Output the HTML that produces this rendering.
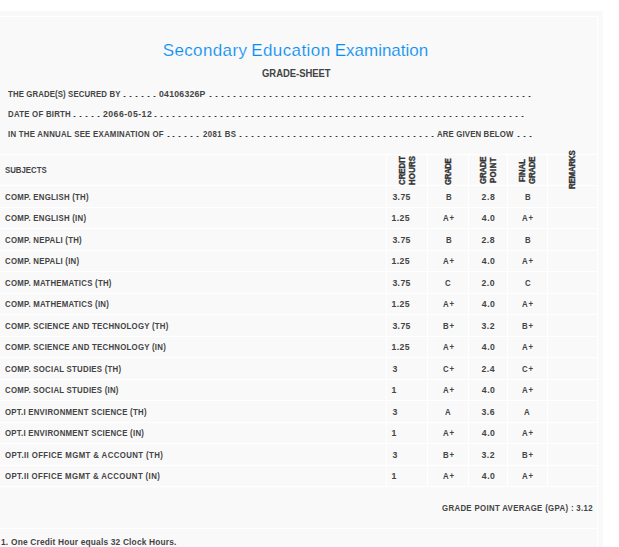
<!DOCTYPE html>
<html><head><meta charset="utf-8">
<style>
html,body{margin:0;padding:0;background:#fff;width:619px;height:547px;overflow:hidden;position:relative}
.hl{position:absolute;height:1px;background:#fff;left:0;width:597px}
.vl{position:absolute;width:1px;background:#fff}
.d{position:absolute;width:3px;height:1px;background:linear-gradient(90deg,#e2a466 0 1px,#333 1px 2px,#6aa8e6 2px 3px)}
</style></head><body>
<div style="position:absolute;left:0;top:11px;width:603px;height:540px;background:#f9f9f9"></div>
<div style="position:absolute;left:-10px;top:16px;width:606px;height:600px;border:1px solid #fff;border-bottom:none"></div>
<div class="hl" style="top:154px"></div>
<div class="hl" style="top:185px"></div>
<div class="hl" style="top:207px"></div>
<div class="hl" style="top:228px"></div>
<div class="hl" style="top:250px"></div>
<div class="hl" style="top:271px"></div>
<div class="hl" style="top:293px"></div>
<div class="hl" style="top:314px"></div>
<div class="hl" style="top:336px"></div>
<div class="hl" style="top:357px"></div>
<div class="hl" style="top:379px"></div>
<div class="hl" style="top:400px"></div>
<div class="hl" style="top:422px"></div>
<div class="hl" style="top:443px"></div>
<div class="hl" style="top:465px"></div>
<div class="hl" style="top:486px"></div>
<div class="hl" style="top:528px"></div>
<div class="vl" style="left:386px;top:154px;height:332px"></div>
<div class="vl" style="left:427px;top:154px;height:332px"></div>
<div class="vl" style="left:468px;top:154px;height:332px"></div>
<div class="vl" style="left:507px;top:154px;height:332px"></div>
<div class="vl" style="left:547px;top:154px;height:332px"></div>
<div class="vl" style="left:597px;top:154px;height:332px"></div>
<i class="d" style="left:123px;top:96px"></i>
<i class="d" style="left:129px;top:96px"></i>
<i class="d" style="left:135px;top:96px"></i>
<i class="d" style="left:141px;top:96px"></i>
<i class="d" style="left:147px;top:96px"></i>
<i class="d" style="left:153px;top:96px"></i>
<i class="d" style="left:209px;top:96px"></i>
<i class="d" style="left:215px;top:96px"></i>
<i class="d" style="left:221px;top:96px"></i>
<i class="d" style="left:227px;top:96px"></i>
<i class="d" style="left:233px;top:96px"></i>
<i class="d" style="left:239px;top:96px"></i>
<i class="d" style="left:245px;top:96px"></i>
<i class="d" style="left:251px;top:96px"></i>
<i class="d" style="left:257px;top:96px"></i>
<i class="d" style="left:263px;top:96px"></i>
<i class="d" style="left:269px;top:96px"></i>
<i class="d" style="left:275px;top:96px"></i>
<i class="d" style="left:281px;top:96px"></i>
<i class="d" style="left:287px;top:96px"></i>
<i class="d" style="left:293px;top:96px"></i>
<i class="d" style="left:299px;top:96px"></i>
<i class="d" style="left:305px;top:96px"></i>
<i class="d" style="left:311px;top:96px"></i>
<i class="d" style="left:317px;top:96px"></i>
<i class="d" style="left:323px;top:96px"></i>
<i class="d" style="left:329px;top:96px"></i>
<i class="d" style="left:335px;top:96px"></i>
<i class="d" style="left:341px;top:96px"></i>
<i class="d" style="left:347px;top:96px"></i>
<i class="d" style="left:353px;top:96px"></i>
<i class="d" style="left:359px;top:96px"></i>
<i class="d" style="left:365px;top:96px"></i>
<i class="d" style="left:371px;top:96px"></i>
<i class="d" style="left:377px;top:96px"></i>
<i class="d" style="left:383px;top:96px"></i>
<i class="d" style="left:390px;top:96px"></i>
<i class="d" style="left:396px;top:96px"></i>
<i class="d" style="left:402px;top:96px"></i>
<i class="d" style="left:408px;top:96px"></i>
<i class="d" style="left:414px;top:96px"></i>
<i class="d" style="left:420px;top:96px"></i>
<i class="d" style="left:426px;top:96px"></i>
<i class="d" style="left:432px;top:96px"></i>
<i class="d" style="left:438px;top:96px"></i>
<i class="d" style="left:444px;top:96px"></i>
<i class="d" style="left:450px;top:96px"></i>
<i class="d" style="left:456px;top:96px"></i>
<i class="d" style="left:462px;top:96px"></i>
<i class="d" style="left:468px;top:96px"></i>
<i class="d" style="left:474px;top:96px"></i>
<i class="d" style="left:480px;top:96px"></i>
<i class="d" style="left:486px;top:96px"></i>
<i class="d" style="left:492px;top:96px"></i>
<i class="d" style="left:498px;top:96px"></i>
<i class="d" style="left:504px;top:96px"></i>
<i class="d" style="left:510px;top:96px"></i>
<i class="d" style="left:516px;top:96px"></i>
<i class="d" style="left:522px;top:96px"></i>
<i class="d" style="left:528px;top:96px"></i>
<i class="d" style="left:73px;top:116px"></i>
<i class="d" style="left:79px;top:116px"></i>
<i class="d" style="left:85px;top:116px"></i>
<i class="d" style="left:91px;top:116px"></i>
<i class="d" style="left:97px;top:116px"></i>
<i class="d" style="left:154px;top:116px"></i>
<i class="d" style="left:160px;top:116px"></i>
<i class="d" style="left:166px;top:116px"></i>
<i class="d" style="left:172px;top:116px"></i>
<i class="d" style="left:178px;top:116px"></i>
<i class="d" style="left:184px;top:116px"></i>
<i class="d" style="left:190px;top:116px"></i>
<i class="d" style="left:196px;top:116px"></i>
<i class="d" style="left:202px;top:116px"></i>
<i class="d" style="left:208px;top:116px"></i>
<i class="d" style="left:214px;top:116px"></i>
<i class="d" style="left:220px;top:116px"></i>
<i class="d" style="left:226px;top:116px"></i>
<i class="d" style="left:232px;top:116px"></i>
<i class="d" style="left:238px;top:116px"></i>
<i class="d" style="left:245px;top:116px"></i>
<i class="d" style="left:251px;top:116px"></i>
<i class="d" style="left:257px;top:116px"></i>
<i class="d" style="left:263px;top:116px"></i>
<i class="d" style="left:269px;top:116px"></i>
<i class="d" style="left:275px;top:116px"></i>
<i class="d" style="left:281px;top:116px"></i>
<i class="d" style="left:287px;top:116px"></i>
<i class="d" style="left:293px;top:116px"></i>
<i class="d" style="left:299px;top:116px"></i>
<i class="d" style="left:305px;top:116px"></i>
<i class="d" style="left:311px;top:116px"></i>
<i class="d" style="left:317px;top:116px"></i>
<i class="d" style="left:323px;top:116px"></i>
<i class="d" style="left:329px;top:116px"></i>
<i class="d" style="left:335px;top:116px"></i>
<i class="d" style="left:341px;top:116px"></i>
<i class="d" style="left:347px;top:116px"></i>
<i class="d" style="left:353px;top:116px"></i>
<i class="d" style="left:359px;top:116px"></i>
<i class="d" style="left:365px;top:116px"></i>
<i class="d" style="left:371px;top:116px"></i>
<i class="d" style="left:377px;top:116px"></i>
<i class="d" style="left:383px;top:116px"></i>
<i class="d" style="left:389px;top:116px"></i>
<i class="d" style="left:395px;top:116px"></i>
<i class="d" style="left:401px;top:116px"></i>
<i class="d" style="left:407px;top:116px"></i>
<i class="d" style="left:413px;top:116px"></i>
<i class="d" style="left:419px;top:116px"></i>
<i class="d" style="left:425px;top:116px"></i>
<i class="d" style="left:431px;top:116px"></i>
<i class="d" style="left:437px;top:116px"></i>
<i class="d" style="left:443px;top:116px"></i>
<i class="d" style="left:449px;top:116px"></i>
<i class="d" style="left:455px;top:116px"></i>
<i class="d" style="left:461px;top:116px"></i>
<i class="d" style="left:467px;top:116px"></i>
<i class="d" style="left:473px;top:116px"></i>
<i class="d" style="left:479px;top:116px"></i>
<i class="d" style="left:485px;top:116px"></i>
<i class="d" style="left:491px;top:116px"></i>
<i class="d" style="left:497px;top:116px"></i>
<i class="d" style="left:503px;top:116px"></i>
<i class="d" style="left:509px;top:116px"></i>
<i class="d" style="left:515px;top:116px"></i>
<i class="d" style="left:521px;top:116px"></i>
<i class="d" style="left:167px;top:136px"></i>
<i class="d" style="left:172px;top:136px"></i>
<i class="d" style="left:178px;top:136px"></i>
<i class="d" style="left:184px;top:136px"></i>
<i class="d" style="left:190px;top:136px"></i>
<i class="d" style="left:196px;top:136px"></i>
<i class="d" style="left:239px;top:136px"></i>
<i class="d" style="left:245px;top:136px"></i>
<i class="d" style="left:251px;top:136px"></i>
<i class="d" style="left:257px;top:136px"></i>
<i class="d" style="left:263px;top:136px"></i>
<i class="d" style="left:269px;top:136px"></i>
<i class="d" style="left:275px;top:136px"></i>
<i class="d" style="left:281px;top:136px"></i>
<i class="d" style="left:287px;top:136px"></i>
<i class="d" style="left:293px;top:136px"></i>
<i class="d" style="left:299px;top:136px"></i>
<i class="d" style="left:305px;top:136px"></i>
<i class="d" style="left:311px;top:136px"></i>
<i class="d" style="left:317px;top:136px"></i>
<i class="d" style="left:323px;top:136px"></i>
<i class="d" style="left:329px;top:136px"></i>
<i class="d" style="left:335px;top:136px"></i>
<i class="d" style="left:341px;top:136px"></i>
<i class="d" style="left:347px;top:136px"></i>
<i class="d" style="left:353px;top:136px"></i>
<i class="d" style="left:359px;top:136px"></i>
<i class="d" style="left:365px;top:136px"></i>
<i class="d" style="left:371px;top:136px"></i>
<i class="d" style="left:377px;top:136px"></i>
<i class="d" style="left:383px;top:136px"></i>
<i class="d" style="left:389px;top:136px"></i>
<i class="d" style="left:395px;top:136px"></i>
<i class="d" style="left:401px;top:136px"></i>
<i class="d" style="left:407px;top:136px"></i>
<i class="d" style="left:413px;top:136px"></i>
<i class="d" style="left:419px;top:136px"></i>
<i class="d" style="left:425px;top:136px"></i>
<i class="d" style="left:431px;top:136px"></i>
<i class="d" style="left:517px;top:136px"></i>
<i class="d" style="left:523px;top:136px"></i>
<i class="d" style="left:529px;top:136px"></i>
<div id="title" style="position:absolute;white-space:pre;font-family:'Liberation Sans',sans-serif;font-size:17px;font-weight:normal;color:#0a8ef2;line-height:34px;left:162.70px;top:34.35px;letter-spacing:0.380px;-webkit-text-stroke:0.15px #f9f9f9;">Secondary</div>
<div id="title2" style="position:absolute;white-space:pre;font-family:'Liberation Sans',sans-serif;font-size:17px;font-weight:normal;color:#0a8ef2;line-height:34px;left:251.18px;top:34.35px;letter-spacing:0.420px;-webkit-text-stroke:0.15px #f9f9f9;">Education</div>
<div id="title3" style="position:absolute;white-space:pre;font-family:'Liberation Sans',sans-serif;font-size:17px;font-weight:normal;color:#0a8ef2;line-height:34px;left:334.70px;top:34.35px;letter-spacing:0.000px;-webkit-text-stroke:0.15px #f9f9f9;">Examination</div>
<div id="gs" style="position:absolute;white-space:pre;font-family:'Liberation Sans',sans-serif;font-size:11px;font-weight:bold;color:#444;line-height:22px;left:261.90px;top:62.05px;letter-spacing:-0.027px;transform:scaleX(0.86);transform-origin:0 0;">GRADE-SHEET</div>
<div id="l1a" style="position:absolute;white-space:pre;font-family:'Liberation Sans',sans-serif;font-size:8.7px;font-weight:bold;color:#444;line-height:17.4px;left:7.80px;top:86.39px;letter-spacing:0.125px;transform:scaleX(0.9);transform-origin:0 0;">THE GRADE(S) SECURED BY</div>
<div id="l1c" style="position:absolute;white-space:pre;font-family:'Liberation Sans',sans-serif;font-size:8.7px;font-weight:bold;color:#444;line-height:17.4px;left:159.02px;top:86.39px;letter-spacing:0.244px;transform:scaleX(1.0);transform-origin:0 0;">04106326P</div>
<div id="l2a" style="position:absolute;white-space:pre;font-family:'Liberation Sans',sans-serif;font-size:8.7px;font-weight:bold;color:#444;line-height:17.4px;left:8.10px;top:106.39px;letter-spacing:0.274px;transform:scaleX(0.9);transform-origin:0 0;">DATE OF BIRTH</div>
<div id="l2c" style="position:absolute;white-space:pre;font-family:'Liberation Sans',sans-serif;font-size:8.7px;font-weight:bold;color:#444;line-height:17.4px;left:102.98px;top:106.39px;letter-spacing:0.484px;transform:scaleX(1.0);transform-origin:0 0;">2066-05-12</div>
<div id="l3a" style="position:absolute;white-space:pre;font-family:'Liberation Sans',sans-serif;font-size:8.7px;font-weight:bold;color:#444;line-height:17.4px;left:7.50px;top:126.39px;letter-spacing:0.287px;transform:scaleX(0.9);transform-origin:0 0;">IN THE ANNUAL SEE EXAMINATION OF</div>
<div id="l3c" style="position:absolute;white-space:pre;font-family:'Liberation Sans',sans-serif;font-size:8.7px;font-weight:bold;color:#444;line-height:17.4px;left:203.40px;top:126.39px;letter-spacing:0.474px;transform:scaleX(0.9);transform-origin:0 0;">2081 BS</div>
<div id="l3e" style="position:absolute;white-space:pre;font-family:'Liberation Sans',sans-serif;font-size:8.7px;font-weight:bold;color:#444;line-height:17.4px;left:437.36px;top:126.39px;letter-spacing:0.159px;transform:scaleX(0.9);transform-origin:0 0;">ARE GIVEN BELOW</div>
<div id="subj" style="position:absolute;white-space:pre;font-family:'Liberation Sans',sans-serif;font-size:8.7px;font-weight:bold;color:#444;line-height:17.4px;left:4.70px;top:162.38px;letter-spacing:0.000px;transform:scaleX(0.9);transform-origin:0 0;">SUBJECTS</div>
<div id="gpa" style="position:absolute;white-space:pre;font-family:'Liberation Sans',sans-serif;font-size:8.7px;font-weight:bold;color:#444;line-height:17.4px;left:441.50px;top:500.38px;letter-spacing:0.373px;transform:scaleX(0.9);transform-origin:0 0;">GRADE POINT AVERAGE (GPA) : 3.12</div>
<div id="fn1" style="position:absolute;white-space:pre;font-family:'Liberation Sans',sans-serif;font-size:9.3px;font-weight:bold;color:#444;line-height:18.6px;left:0.60px;top:532.51px;letter-spacing:0.000px;transform:scaleX(0.9);transform-origin:0 0;">1.</div>
<div id="fn2" style="position:absolute;white-space:pre;font-family:'Liberation Sans',sans-serif;font-size:9.3px;font-weight:bold;color:#444;line-height:18.6px;left:11.00px;top:532.51px;letter-spacing:0.192px;transform:scaleX(0.9);transform-origin:0 0;">One Credit Hour equals 32 Clock Hours.</div>
<div id="hCR" style="position:absolute;white-space:pre;font-family:'Liberation Sans',sans-serif;font-size:8.7px;font-weight:bold;color:#333;line-height:10px;left:396.50px;top:184.70px;letter-spacing:-0.000px;transform:rotate(-90deg) scaleX(0.9);transform-origin:0 0;-webkit-text-stroke:0.35px #333;">CREDIT</div>
<div id="hHO" style="position:absolute;white-space:pre;font-family:'Liberation Sans',sans-serif;font-size:8.7px;font-weight:bold;color:#333;line-height:10px;left:406.50px;top:184.70px;letter-spacing:0.222px;transform:rotate(-90deg) scaleX(0.9);transform-origin:0 0;-webkit-text-stroke:0.35px #333;">HOURS</div>
<div id="hG2" style="position:absolute;white-space:pre;font-family:'Liberation Sans',sans-serif;font-size:8.7px;font-weight:bold;color:#333;line-height:10px;left:443.00px;top:184.70px;letter-spacing:-0.444px;transform:rotate(-90deg) scaleX(0.9);transform-origin:0 0;-webkit-text-stroke:0.35px #333;">GRADE</div>
<div id="hG3" style="position:absolute;white-space:pre;font-family:'Liberation Sans',sans-serif;font-size:8.7px;font-weight:bold;color:#333;line-height:10px;left:477.80px;top:184.00px;letter-spacing:-0.222px;transform:rotate(-90deg) scaleX(0.9);transform-origin:0 0;-webkit-text-stroke:0.35px #333;">GRADE</div>
<div id="hPO" style="position:absolute;white-space:pre;font-family:'Liberation Sans',sans-serif;font-size:8.7px;font-weight:bold;color:#333;line-height:10px;left:488.20px;top:182.80px;letter-spacing:0.444px;transform:rotate(-90deg) scaleX(0.9);transform-origin:0 0;-webkit-text-stroke:0.35px #333;">POINT</div>
<div id="hFI" style="position:absolute;white-space:pre;font-family:'Liberation Sans',sans-serif;font-size:8.7px;font-weight:bold;color:#333;line-height:10px;left:517.20px;top:181.80px;letter-spacing:0.000px;transform:rotate(-90deg) scaleX(0.9);transform-origin:0 0;-webkit-text-stroke:0.35px #333;">FINAL</div>
<div id="hG4" style="position:absolute;white-space:pre;font-family:'Liberation Sans',sans-serif;font-size:8.7px;font-weight:bold;color:#333;line-height:10px;left:526.90px;top:184.20px;letter-spacing:-0.222px;transform:rotate(-90deg) scaleX(0.9);transform-origin:0 0;-webkit-text-stroke:0.35px #333;">GRADE</div>
<div id="hRE" style="position:absolute;white-space:pre;font-family:'Liberation Sans',sans-serif;font-size:8.7px;font-weight:bold;color:#333;line-height:10px;left:566.60px;top:189.00px;letter-spacing:-0.148px;transform:rotate(-90deg) scaleX(0.9);transform-origin:0 0;-webkit-text-stroke:0.35px #333;">REMARKS</div>
<div id="s0" style="position:absolute;white-space:pre;font-family:'Liberation Sans',sans-serif;font-size:8.7px;font-weight:bold;color:#444;line-height:17.4px;left:5.10px;top:189.38px;letter-spacing:0.278px;transform:scaleX(0.9);transform-origin:0 0;">COMP. ENGLISH (TH)</div>
<div id="c0" style="position:absolute;white-space:pre;font-family:'Liberation Sans',sans-serif;font-size:8.7px;font-weight:bold;color:#444;line-height:17.4px;left:392.40px;top:189.38px;letter-spacing:0.385px;transform:scaleX(1.0);transform-origin:0 0;">3.75</div>
<div id="g0" style="position:absolute;white-space:pre;font-family:'Liberation Sans',sans-serif;font-size:8.7px;font-weight:bold;color:#444;line-height:17.4px;left:445.80px;top:189.38px;letter-spacing:0.889px;transform:scaleX(0.9);transform-origin:0 0;">B</div>
<div id="p0" style="position:absolute;white-space:pre;font-family:'Liberation Sans',sans-serif;font-size:8.7px;font-weight:bold;color:#444;line-height:17.4px;left:481.60px;top:189.38px;letter-spacing:0.533px;transform:scaleX(1.0);transform-origin:0 0;">2.8</div>
<div id="f0" style="position:absolute;white-space:pre;font-family:'Liberation Sans',sans-serif;font-size:8.7px;font-weight:bold;color:#444;line-height:17.4px;left:524.90px;top:189.38px;letter-spacing:0.889px;transform:scaleX(0.9);transform-origin:0 0;">B</div>
<div id="s1" style="position:absolute;white-space:pre;font-family:'Liberation Sans',sans-serif;font-size:8.7px;font-weight:bold;color:#444;line-height:17.4px;left:5.10px;top:210.38px;letter-spacing:0.278px;transform:scaleX(0.9);transform-origin:0 0;">COMP. ENGLISH (IN)</div>
<div id="c1" style="position:absolute;white-space:pre;font-family:'Liberation Sans',sans-serif;font-size:8.7px;font-weight:bold;color:#444;line-height:17.4px;left:391.60px;top:210.38px;letter-spacing:0.385px;transform:scaleX(1.0);transform-origin:0 0;">1.25</div>
<div id="g1" style="position:absolute;white-space:pre;font-family:'Liberation Sans',sans-serif;font-size:8.7px;font-weight:bold;color:#444;line-height:17.4px;left:442.50px;top:210.38px;letter-spacing:0.889px;transform:scaleX(0.9);transform-origin:0 0;">A+</div>
<div id="p1" style="position:absolute;white-space:pre;font-family:'Liberation Sans',sans-serif;font-size:8.7px;font-weight:bold;color:#444;line-height:17.4px;left:481.80px;top:210.38px;letter-spacing:0.533px;transform:scaleX(1.0);transform-origin:0 0;">4.0</div>
<div id="f1" style="position:absolute;white-space:pre;font-family:'Liberation Sans',sans-serif;font-size:8.7px;font-weight:bold;color:#444;line-height:17.4px;left:522.10px;top:210.38px;letter-spacing:0.889px;transform:scaleX(0.9);transform-origin:0 0;">A+</div>
<div id="s2" style="position:absolute;white-space:pre;font-family:'Liberation Sans',sans-serif;font-size:8.7px;font-weight:bold;color:#444;line-height:17.4px;left:5.10px;top:232.38px;letter-spacing:0.278px;transform:scaleX(0.9);transform-origin:0 0;">COMP. NEPALI (TH)</div>
<div id="c2" style="position:absolute;white-space:pre;font-family:'Liberation Sans',sans-serif;font-size:8.7px;font-weight:bold;color:#444;line-height:17.4px;left:392.40px;top:232.38px;letter-spacing:0.385px;transform:scaleX(1.0);transform-origin:0 0;">3.75</div>
<div id="g2" style="position:absolute;white-space:pre;font-family:'Liberation Sans',sans-serif;font-size:8.7px;font-weight:bold;color:#444;line-height:17.4px;left:445.80px;top:232.38px;letter-spacing:0.889px;transform:scaleX(0.9);transform-origin:0 0;">B</div>
<div id="p2" style="position:absolute;white-space:pre;font-family:'Liberation Sans',sans-serif;font-size:8.7px;font-weight:bold;color:#444;line-height:17.4px;left:481.40px;top:232.38px;letter-spacing:0.533px;transform:scaleX(1.0);transform-origin:0 0;">2.8</div>
<div id="f2" style="position:absolute;white-space:pre;font-family:'Liberation Sans',sans-serif;font-size:8.7px;font-weight:bold;color:#444;line-height:17.4px;left:524.50px;top:232.38px;letter-spacing:0.889px;transform:scaleX(0.9);transform-origin:0 0;">B</div>
<div id="s3" style="position:absolute;white-space:pre;font-family:'Liberation Sans',sans-serif;font-size:8.7px;font-weight:bold;color:#444;line-height:17.4px;left:5.10px;top:253.38px;letter-spacing:0.278px;transform:scaleX(0.9);transform-origin:0 0;">COMP. NEPALI (IN)</div>
<div id="c3" style="position:absolute;white-space:pre;font-family:'Liberation Sans',sans-serif;font-size:8.7px;font-weight:bold;color:#444;line-height:17.4px;left:391.60px;top:253.38px;letter-spacing:0.385px;transform:scaleX(1.0);transform-origin:0 0;">1.25</div>
<div id="g3" style="position:absolute;white-space:pre;font-family:'Liberation Sans',sans-serif;font-size:8.7px;font-weight:bold;color:#444;line-height:17.4px;left:442.60px;top:253.38px;letter-spacing:0.889px;transform:scaleX(0.9);transform-origin:0 0;">A+</div>
<div id="p3" style="position:absolute;white-space:pre;font-family:'Liberation Sans',sans-serif;font-size:8.7px;font-weight:bold;color:#444;line-height:17.4px;left:481.80px;top:253.38px;letter-spacing:0.533px;transform:scaleX(1.0);transform-origin:0 0;">4.0</div>
<div id="f3" style="position:absolute;white-space:pre;font-family:'Liberation Sans',sans-serif;font-size:8.7px;font-weight:bold;color:#444;line-height:17.4px;left:522.10px;top:253.38px;letter-spacing:0.889px;transform:scaleX(0.9);transform-origin:0 0;">A+</div>
<div id="s4" style="position:absolute;white-space:pre;font-family:'Liberation Sans',sans-serif;font-size:8.7px;font-weight:bold;color:#444;line-height:17.4px;left:5.10px;top:275.38px;letter-spacing:0.278px;transform:scaleX(0.9);transform-origin:0 0;">COMP. MATHEMATICS (TH)</div>
<div id="c4" style="position:absolute;white-space:pre;font-family:'Liberation Sans',sans-serif;font-size:8.7px;font-weight:bold;color:#444;line-height:17.4px;left:392.40px;top:275.38px;letter-spacing:0.385px;transform:scaleX(1.0);transform-origin:0 0;">3.75</div>
<div id="g4" style="position:absolute;white-space:pre;font-family:'Liberation Sans',sans-serif;font-size:8.7px;font-weight:bold;color:#444;line-height:17.4px;left:445.40px;top:275.38px;letter-spacing:0.889px;transform:scaleX(0.9);transform-origin:0 0;">C</div>
<div id="p4" style="position:absolute;white-space:pre;font-family:'Liberation Sans',sans-serif;font-size:8.7px;font-weight:bold;color:#444;line-height:17.4px;left:481.40px;top:275.38px;letter-spacing:0.533px;transform:scaleX(1.0);transform-origin:0 0;">2.0</div>
<div id="f4" style="position:absolute;white-space:pre;font-family:'Liberation Sans',sans-serif;font-size:8.7px;font-weight:bold;color:#444;line-height:17.4px;left:524.90px;top:275.38px;letter-spacing:0.889px;transform:scaleX(0.9);transform-origin:0 0;">C</div>
<div id="s5" style="position:absolute;white-space:pre;font-family:'Liberation Sans',sans-serif;font-size:8.7px;font-weight:bold;color:#444;line-height:17.4px;left:5.10px;top:296.38px;letter-spacing:0.278px;transform:scaleX(0.9);transform-origin:0 0;">COMP. MATHEMATICS (IN)</div>
<div id="c5" style="position:absolute;white-space:pre;font-family:'Liberation Sans',sans-serif;font-size:8.7px;font-weight:bold;color:#444;line-height:17.4px;left:391.60px;top:296.38px;letter-spacing:0.385px;transform:scaleX(1.0);transform-origin:0 0;">1.25</div>
<div id="g5" style="position:absolute;white-space:pre;font-family:'Liberation Sans',sans-serif;font-size:8.7px;font-weight:bold;color:#444;line-height:17.4px;left:442.60px;top:296.38px;letter-spacing:0.889px;transform:scaleX(0.9);transform-origin:0 0;">A+</div>
<div id="p5" style="position:absolute;white-space:pre;font-family:'Liberation Sans',sans-serif;font-size:8.7px;font-weight:bold;color:#444;line-height:17.4px;left:481.80px;top:296.38px;letter-spacing:0.533px;transform:scaleX(1.0);transform-origin:0 0;">4.0</div>
<div id="f5" style="position:absolute;white-space:pre;font-family:'Liberation Sans',sans-serif;font-size:8.7px;font-weight:bold;color:#444;line-height:17.4px;left:522.10px;top:296.38px;letter-spacing:0.889px;transform:scaleX(0.9);transform-origin:0 0;">A+</div>
<div id="s6" style="position:absolute;white-space:pre;font-family:'Liberation Sans',sans-serif;font-size:8.7px;font-weight:bold;color:#444;line-height:17.4px;left:5.10px;top:318.38px;letter-spacing:0.278px;transform:scaleX(0.9);transform-origin:0 0;">COMP. SCIENCE AND TECHNOLOGY (TH)</div>
<div id="c6" style="position:absolute;white-space:pre;font-family:'Liberation Sans',sans-serif;font-size:8.7px;font-weight:bold;color:#444;line-height:17.4px;left:392.40px;top:318.38px;letter-spacing:0.385px;transform:scaleX(1.0);transform-origin:0 0;">3.75</div>
<div id="g6" style="position:absolute;white-space:pre;font-family:'Liberation Sans',sans-serif;font-size:8.7px;font-weight:bold;color:#444;line-height:17.4px;left:442.60px;top:318.38px;letter-spacing:0.889px;transform:scaleX(0.9);transform-origin:0 0;">B+</div>
<div id="p6" style="position:absolute;white-space:pre;font-family:'Liberation Sans',sans-serif;font-size:8.7px;font-weight:bold;color:#444;line-height:17.4px;left:481.40px;top:318.38px;letter-spacing:0.533px;transform:scaleX(1.0);transform-origin:0 0;">3.2</div>
<div id="f6" style="position:absolute;white-space:pre;font-family:'Liberation Sans',sans-serif;font-size:8.7px;font-weight:bold;color:#444;line-height:17.4px;left:522.10px;top:318.38px;letter-spacing:0.889px;transform:scaleX(0.9);transform-origin:0 0;">B+</div>
<div id="s7" style="position:absolute;white-space:pre;font-family:'Liberation Sans',sans-serif;font-size:8.7px;font-weight:bold;color:#444;line-height:17.4px;left:5.10px;top:339.38px;letter-spacing:0.278px;transform:scaleX(0.9);transform-origin:0 0;">COMP. SCIENCE AND TECHNOLOGY (IN)</div>
<div id="c7" style="position:absolute;white-space:pre;font-family:'Liberation Sans',sans-serif;font-size:8.7px;font-weight:bold;color:#444;line-height:17.4px;left:391.60px;top:339.38px;letter-spacing:0.385px;transform:scaleX(1.0);transform-origin:0 0;">1.25</div>
<div id="g7" style="position:absolute;white-space:pre;font-family:'Liberation Sans',sans-serif;font-size:8.7px;font-weight:bold;color:#444;line-height:17.4px;left:442.60px;top:339.38px;letter-spacing:0.889px;transform:scaleX(0.9);transform-origin:0 0;">A+</div>
<div id="p7" style="position:absolute;white-space:pre;font-family:'Liberation Sans',sans-serif;font-size:8.7px;font-weight:bold;color:#444;line-height:17.4px;left:481.80px;top:339.38px;letter-spacing:0.533px;transform:scaleX(1.0);transform-origin:0 0;">4.0</div>
<div id="f7" style="position:absolute;white-space:pre;font-family:'Liberation Sans',sans-serif;font-size:8.7px;font-weight:bold;color:#444;line-height:17.4px;left:522.10px;top:339.38px;letter-spacing:0.889px;transform:scaleX(0.9);transform-origin:0 0;">A+</div>
<div id="s8" style="position:absolute;white-space:pre;font-family:'Liberation Sans',sans-serif;font-size:8.7px;font-weight:bold;color:#444;line-height:17.4px;left:5.10px;top:361.38px;letter-spacing:0.278px;transform:scaleX(0.9);transform-origin:0 0;">COMP. SOCIAL STUDIES (TH)</div>
<div id="c8" style="position:absolute;white-space:pre;font-family:'Liberation Sans',sans-serif;font-size:8.7px;font-weight:bold;color:#444;line-height:17.4px;left:392.40px;top:361.38px;letter-spacing:0.385px;transform:scaleX(1.0);transform-origin:0 0;">3</div>
<div id="g8" style="position:absolute;white-space:pre;font-family:'Liberation Sans',sans-serif;font-size:8.7px;font-weight:bold;color:#444;line-height:17.4px;left:442.60px;top:361.38px;letter-spacing:0.889px;transform:scaleX(0.9);transform-origin:0 0;">C+</div>
<div id="p8" style="position:absolute;white-space:pre;font-family:'Liberation Sans',sans-serif;font-size:8.7px;font-weight:bold;color:#444;line-height:17.4px;left:481.40px;top:361.38px;letter-spacing:0.533px;transform:scaleX(1.0);transform-origin:0 0;">2.4</div>
<div id="f8" style="position:absolute;white-space:pre;font-family:'Liberation Sans',sans-serif;font-size:8.7px;font-weight:bold;color:#444;line-height:17.4px;left:522.10px;top:361.38px;letter-spacing:0.889px;transform:scaleX(0.9);transform-origin:0 0;">C+</div>
<div id="s9" style="position:absolute;white-space:pre;font-family:'Liberation Sans',sans-serif;font-size:8.7px;font-weight:bold;color:#444;line-height:17.4px;left:5.10px;top:382.38px;letter-spacing:0.278px;transform:scaleX(0.9);transform-origin:0 0;">COMP. SOCIAL STUDIES (IN)</div>
<div id="c9" style="position:absolute;white-space:pre;font-family:'Liberation Sans',sans-serif;font-size:8.7px;font-weight:bold;color:#444;line-height:17.4px;left:391.60px;top:382.38px;letter-spacing:0.385px;transform:scaleX(1.0);transform-origin:0 0;">1</div>
<div id="g9" style="position:absolute;white-space:pre;font-family:'Liberation Sans',sans-serif;font-size:8.7px;font-weight:bold;color:#444;line-height:17.4px;left:442.60px;top:382.38px;letter-spacing:0.889px;transform:scaleX(0.9);transform-origin:0 0;">A+</div>
<div id="p9" style="position:absolute;white-space:pre;font-family:'Liberation Sans',sans-serif;font-size:8.7px;font-weight:bold;color:#444;line-height:17.4px;left:481.80px;top:382.38px;letter-spacing:0.533px;transform:scaleX(1.0);transform-origin:0 0;">4.0</div>
<div id="f9" style="position:absolute;white-space:pre;font-family:'Liberation Sans',sans-serif;font-size:8.7px;font-weight:bold;color:#444;line-height:17.4px;left:522.10px;top:382.38px;letter-spacing:0.889px;transform:scaleX(0.9);transform-origin:0 0;">A+</div>
<div id="s10" style="position:absolute;white-space:pre;font-family:'Liberation Sans',sans-serif;font-size:8.7px;font-weight:bold;color:#444;line-height:17.4px;left:5.10px;top:404.38px;letter-spacing:0.278px;transform:scaleX(0.9);transform-origin:0 0;">OPT.I ENVIRONMENT SCIENCE (TH)</div>
<div id="c10" style="position:absolute;white-space:pre;font-family:'Liberation Sans',sans-serif;font-size:8.7px;font-weight:bold;color:#444;line-height:17.4px;left:392.40px;top:404.38px;letter-spacing:0.385px;transform:scaleX(1.0);transform-origin:0 0;">3</div>
<div id="g10" style="position:absolute;white-space:pre;font-family:'Liberation Sans',sans-serif;font-size:8.7px;font-weight:bold;color:#444;line-height:17.4px;left:444.60px;top:404.38px;letter-spacing:0.889px;transform:scaleX(0.9);transform-origin:0 0;">A</div>
<div id="p10" style="position:absolute;white-space:pre;font-family:'Liberation Sans',sans-serif;font-size:8.7px;font-weight:bold;color:#444;line-height:17.4px;left:481.40px;top:404.38px;letter-spacing:0.533px;transform:scaleX(1.0);transform-origin:0 0;">3.6</div>
<div id="f10" style="position:absolute;white-space:pre;font-family:'Liberation Sans',sans-serif;font-size:8.7px;font-weight:bold;color:#444;line-height:17.4px;left:524.10px;top:404.38px;letter-spacing:0.889px;transform:scaleX(0.9);transform-origin:0 0;">A</div>
<div id="s11" style="position:absolute;white-space:pre;font-family:'Liberation Sans',sans-serif;font-size:8.7px;font-weight:bold;color:#444;line-height:17.4px;left:5.10px;top:425.38px;letter-spacing:0.278px;transform:scaleX(0.9);transform-origin:0 0;">OPT.I ENVIRONMENT SCIENCE (IN)</div>
<div id="c11" style="position:absolute;white-space:pre;font-family:'Liberation Sans',sans-serif;font-size:8.7px;font-weight:bold;color:#444;line-height:17.4px;left:391.60px;top:425.38px;letter-spacing:0.385px;transform:scaleX(1.0);transform-origin:0 0;">1</div>
<div id="g11" style="position:absolute;white-space:pre;font-family:'Liberation Sans',sans-serif;font-size:8.7px;font-weight:bold;color:#444;line-height:17.4px;left:442.60px;top:425.38px;letter-spacing:0.889px;transform:scaleX(0.9);transform-origin:0 0;">A+</div>
<div id="p11" style="position:absolute;white-space:pre;font-family:'Liberation Sans',sans-serif;font-size:8.7px;font-weight:bold;color:#444;line-height:17.4px;left:481.80px;top:425.38px;letter-spacing:0.533px;transform:scaleX(1.0);transform-origin:0 0;">4.0</div>
<div id="f11" style="position:absolute;white-space:pre;font-family:'Liberation Sans',sans-serif;font-size:8.7px;font-weight:bold;color:#444;line-height:17.4px;left:522.10px;top:425.38px;letter-spacing:0.889px;transform:scaleX(0.9);transform-origin:0 0;">A+</div>
<div id="s12" style="position:absolute;white-space:pre;font-family:'Liberation Sans',sans-serif;font-size:8.7px;font-weight:bold;color:#444;line-height:17.4px;left:5.10px;top:447.38px;letter-spacing:0.439px;transform:scaleX(0.9);transform-origin:0 0;">OPT.II OFFICE MGMT &amp; ACCOUNT (TH)</div>
<div id="c12" style="position:absolute;white-space:pre;font-family:'Liberation Sans',sans-serif;font-size:8.7px;font-weight:bold;color:#444;line-height:17.4px;left:392.40px;top:447.38px;letter-spacing:0.385px;transform:scaleX(1.0);transform-origin:0 0;">3</div>
<div id="g12" style="position:absolute;white-space:pre;font-family:'Liberation Sans',sans-serif;font-size:8.7px;font-weight:bold;color:#444;line-height:17.4px;left:442.60px;top:447.38px;letter-spacing:0.889px;transform:scaleX(0.9);transform-origin:0 0;">B+</div>
<div id="p12" style="position:absolute;white-space:pre;font-family:'Liberation Sans',sans-serif;font-size:8.7px;font-weight:bold;color:#444;line-height:17.4px;left:481.40px;top:447.38px;letter-spacing:0.533px;transform:scaleX(1.0);transform-origin:0 0;">3.2</div>
<div id="f12" style="position:absolute;white-space:pre;font-family:'Liberation Sans',sans-serif;font-size:8.7px;font-weight:bold;color:#444;line-height:17.4px;left:522.10px;top:447.38px;letter-spacing:0.889px;transform:scaleX(0.9);transform-origin:0 0;">B+</div>
<div id="s13" style="position:absolute;white-space:pre;font-family:'Liberation Sans',sans-serif;font-size:8.7px;font-weight:bold;color:#444;line-height:17.4px;left:5.10px;top:468.38px;letter-spacing:0.422px;transform:scaleX(0.9);transform-origin:0 0;">OPT.II OFFICE MGMT &amp; ACCOUNT (IN)</div>
<div id="c13" style="position:absolute;white-space:pre;font-family:'Liberation Sans',sans-serif;font-size:8.7px;font-weight:bold;color:#444;line-height:17.4px;left:391.60px;top:468.38px;letter-spacing:0.385px;transform:scaleX(1.0);transform-origin:0 0;">1</div>
<div id="g13" style="position:absolute;white-space:pre;font-family:'Liberation Sans',sans-serif;font-size:8.7px;font-weight:bold;color:#444;line-height:17.4px;left:442.60px;top:468.38px;letter-spacing:0.889px;transform:scaleX(0.9);transform-origin:0 0;">A+</div>
<div id="p13" style="position:absolute;white-space:pre;font-family:'Liberation Sans',sans-serif;font-size:8.7px;font-weight:bold;color:#444;line-height:17.4px;left:481.80px;top:468.38px;letter-spacing:0.533px;transform:scaleX(1.0);transform-origin:0 0;">4.0</div>
<div id="f13" style="position:absolute;white-space:pre;font-family:'Liberation Sans',sans-serif;font-size:8.7px;font-weight:bold;color:#444;line-height:17.4px;left:522.10px;top:468.38px;letter-spacing:0.889px;transform:scaleX(0.9);transform-origin:0 0;">A+</div>
</body></html>
